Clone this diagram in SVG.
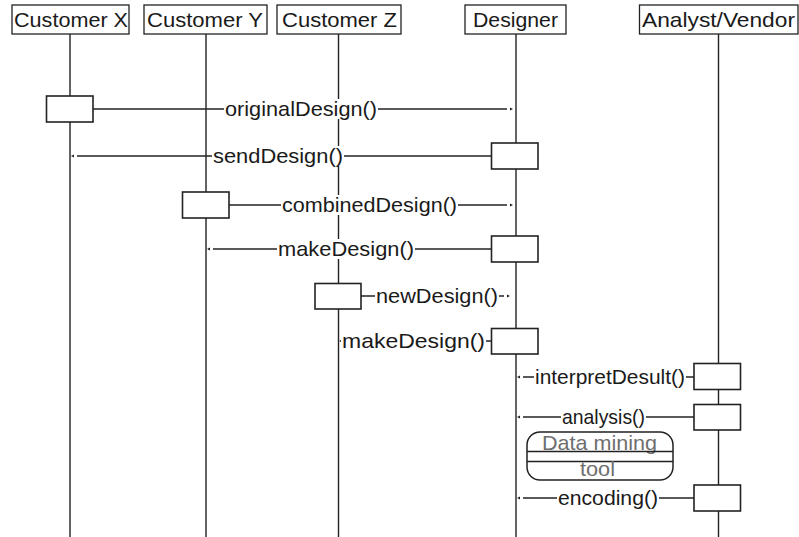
<svg xmlns="http://www.w3.org/2000/svg" width="799" height="537" viewBox="0 0 799 537">
<style>
text{font-family:"Liberation Sans",Arial,sans-serif;font-size:21px;fill:#1a1a1a}
.hdr{fill:#fff;stroke:#222;stroke-width:1.3}
.life{stroke:#222;stroke-width:1.4;fill:none}
.msg{stroke:#222;stroke-width:1.4;fill:none;marker-end:url(#arr)}
.act{fill:#fff;stroke:#222;stroke-width:1.6}
.bg{fill:#fff}
.gray{fill:#6e6e6e}
</style>
<defs>
<marker id="arr" viewBox="-10 -5 20 10" markerWidth="20" markerHeight="10" refX="0" refY="0" markerUnits="userSpaceOnUse" orient="auto">
<path d="M3,-1.6 L6,0 L3,1.6 z" fill="#222"/>
</marker>
</defs>

<g id="lifelines">
<line class="life" x1="70" y1="34" x2="70" y2="537"/>
<line class="life" x1="206" y1="34" x2="206" y2="537"/>
<line class="life" x1="338.5" y1="34" x2="338.5" y2="537"/>
<line class="life" x1="516" y1="34" x2="516" y2="537"/>
<line class="life" x1="718.5" y1="34" x2="718.5" y2="537"/>
</g>

<g id="customerX"><rect class="hdr" x="12" y="5" width="117" height="29"/><text x="14" y="27" textLength="114" lengthAdjust="spacingAndGlyphs">Customer X</text></g>
<g id="customerY"><rect class="hdr" x="144" y="5" width="123" height="29"/><text x="147" y="27" textLength="116" lengthAdjust="spacingAndGlyphs">Customer Y</text></g>
<g id="customerZ"><rect class="hdr" x="277" y="5" width="124" height="29"/><text x="282" y="27" textLength="115" lengthAdjust="spacingAndGlyphs">Customer Z</text></g>
<g id="designer"><rect class="hdr" x="465" y="5" width="101" height="29"/><text x="473" y="27" textLength="85" lengthAdjust="spacingAndGlyphs">Designer</text></g>
<g id="analyst"><rect class="hdr" x="639.5" y="5" width="158.5" height="29"/><text x="642" y="27" textLength="153" lengthAdjust="spacingAndGlyphs">Analyst/Vendor</text></g>

<g id="connectors">
<line class="msg" x1="93" y1="109" x2="507" y2="109"/>
<line class="msg" x1="491" y1="156" x2="77" y2="156"/>
<line class="msg" x1="229" y1="205" x2="507" y2="205"/>
<line class="msg" x1="491" y1="249" x2="213" y2="249"/>
<line class="msg" x1="361" y1="296" x2="504" y2="296"/>
<line class="msg" x1="491" y1="341" x2="345" y2="341"/>
<line class="msg" x1="694" y1="377" x2="523" y2="377"/>
<line class="msg" x1="694" y1="417" x2="523" y2="417"/>
<line class="msg" x1="694" y1="498" x2="523" y2="498"/>
</g>

<g id="labels">
<rect class="bg" x="224" y="99" width="154" height="20"/><text x="225" y="116" textLength="152" lengthAdjust="spacingAndGlyphs">originalDesign()</text>
<rect class="bg" x="212" y="146" width="132" height="20"/><text x="213" y="163" textLength="130" lengthAdjust="spacingAndGlyphs">sendDesign()</text>
<rect class="bg" x="281" y="195" width="177" height="20"/><text x="282" y="212" textLength="175" lengthAdjust="spacingAndGlyphs">combinedDesign()</text>
<rect class="bg" x="277" y="239" width="138" height="20"/><text x="278" y="256" textLength="136" lengthAdjust="spacingAndGlyphs">makeDesign()</text>
<rect class="bg" x="375" y="286" width="124" height="20"/><text x="376" y="303" textLength="122" lengthAdjust="spacingAndGlyphs">newDesign()</text>
<rect class="bg" x="341" y="331" width="145" height="20"/><text x="342" y="348" textLength="143" lengthAdjust="spacingAndGlyphs">makeDesign()</text>
<rect class="bg" x="534" y="367" width="152" height="20"/><text x="535" y="384" textLength="150" lengthAdjust="spacingAndGlyphs">interpretDesult()</text>
<rect class="bg" x="561" y="407" width="85" height="20"/><text x="562" y="424" textLength="83" lengthAdjust="spacingAndGlyphs">analysis()</text>
<rect class="bg" x="557" y="488" width="102" height="20"/><text x="558" y="505" textLength="100" lengthAdjust="spacingAndGlyphs">encoding()</text>
</g>

<g id="activations">
<rect class="act" x="46.5" y="96" width="46.5" height="26"/>
<rect class="act" x="491.5" y="143" width="46.5" height="26"/>
<rect class="act" x="182.5" y="192" width="46.5" height="26"/>
<rect class="act" x="491.5" y="236" width="46.5" height="26"/>
<rect class="act" x="315" y="283.5" width="46" height="25.5"/>
<rect class="act" x="491.5" y="328.5" width="46.5" height="25.5"/>
<rect class="act" x="694" y="363.5" width="46.5" height="26"/>
<rect class="act" x="694" y="404.5" width="46.5" height="25.5"/>
<rect class="act" x="694" y="485" width="46.5" height="26"/>
</g>

<g id="dataMiningTool">
<rect x="527" y="432" width="146" height="48" rx="13" ry="13" fill="#fff" stroke="#222" stroke-width="1.5"/>
<text class="gray" x="542" y="450" textLength="115" lengthAdjust="spacingAndGlyphs">Data mining</text>
<line x1="527" y1="451.5" x2="673" y2="451.5" stroke="#222" stroke-width="1.3"/>
<line x1="527" y1="461.5" x2="673" y2="461.5" stroke="#222" stroke-width="1.3"/>
<text class="gray" x="580" y="476" textLength="35" lengthAdjust="spacingAndGlyphs">tool</text>
</g>
</svg>
